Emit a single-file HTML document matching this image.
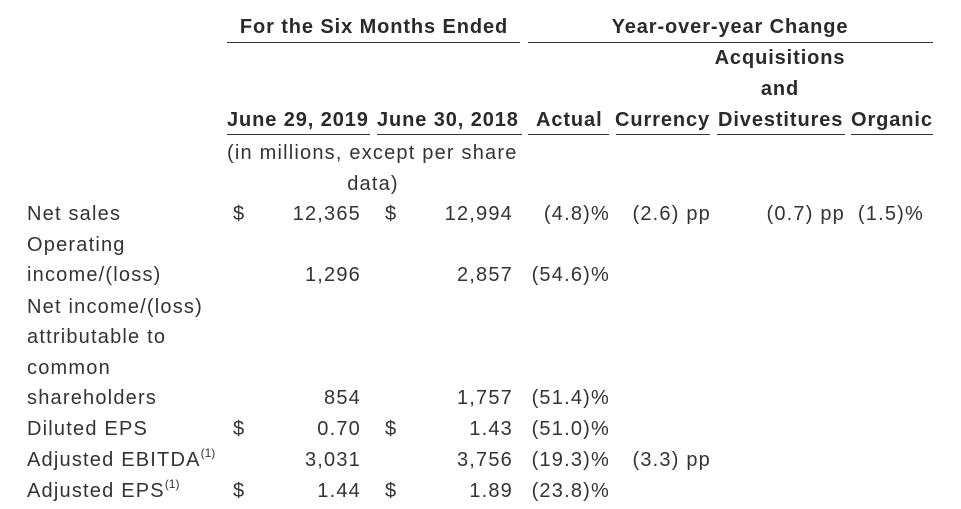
<!DOCTYPE html>
<html><head><meta charset="utf-8"><style>
html,body{margin:0;padding:0;background:#fff;}
body{width:961px;height:509px;position:relative;overflow:hidden;font-family:"Liberation Sans",sans-serif;font-size:20px;letter-spacing:1.2px;color:#333;}
span{position:absolute;line-height:24px;white-space:nowrap;}
.b{font-weight:bold;color:#2a2a2a;letter-spacing:0.9px;}
.c{transform:translateX(-50%);}
.r{transform:translateX(-100%);margin-left:1px;}
sup{font-size:12px;line-height:0;vertical-align:9px;letter-spacing:0;}
.ln{position:absolute;height:1px;background:#333;}
</style></head><body>
<span class="b c" style="left:374px;top:15px">For the Six Months Ended</span>
<span class="b c" style="left:730px;top:15px">Year-over-year Change</span>
<div class="ln" style="left:227px;width:293px;top:42px"></div>
<div class="ln" style="left:528px;width:405px;top:42px"></div>
<span class="b c" style="left:780px;top:46px">Acquisitions</span>
<span class="b c" style="left:780px;top:77px">and</span>
<span class="b" style="left:227px;top:108px">June 29, 2019</span>
<span class="b" style="left:377px;top:108px">June 30, 2018</span>
<span class="b" style="left:536px;top:108px">Actual</span>
<span class="b" style="left:615px;top:108px">Currency</span>
<span class="b" style="left:718px;top:108px">Divestitures</span>
<span class="b" style="left:851px;top:108px">Organic</span>
<div class="ln" style="left:227px;width:143px;top:134px"></div>
<div class="ln" style="left:377px;width:145px;top:134px"></div>
<div class="ln" style="left:528px;width:81px;top:134px"></div>
<div class="ln" style="left:616px;width:94px;top:134px"></div>
<div class="ln" style="left:717px;width:128px;top:134px"></div>
<div class="ln" style="left:851px;width:82px;top:134px"></div>
<span style="left:227px;top:141px">(in millions, except per share</span>
<span class="c" style="left:373px;top:172px">data)</span>

<span style="left:27px;top:202px">Net sales</span>
<span style="left:233px;top:202px">$</span>
<span class="r" style="left:360px;top:202px">12,365</span>
<span style="left:385px;top:202px">$</span>
<span class="r" style="left:512px;top:202px">12,994</span>
<span class="r" style="left:609px;top:202px">(4.8)%</span>
<span class="r" style="left:710px;top:202px">(2.6) pp</span>
<span class="r" style="left:844px;top:202px">(0.7) pp</span>
<span class="r" style="left:923px;top:202px">(1.5)%</span>

<span style="left:27px;top:233px">Operating</span>
<span style="left:27px;top:263px">income/(loss)</span>
<span class="r" style="left:360px;top:263px">1,296</span>
<span class="r" style="left:512px;top:263px">2,857</span>
<span class="r" style="left:609px;top:263px">(54.6)%</span>

<span style="left:27px;top:295px">Net income/(loss)</span>
<span style="left:27px;top:325px">attributable to</span>
<span style="left:27px;top:356px">common</span>
<span style="left:27px;top:386px">shareholders</span>
<span class="r" style="left:360px;top:386px">854</span>
<span class="r" style="left:512px;top:386px">1,757</span>
<span class="r" style="left:609px;top:386px">(51.4)%</span>

<span style="left:27px;top:417px">Diluted EPS</span>
<span style="left:233px;top:417px">$</span>
<span class="r" style="left:360px;top:417px">0.70</span>
<span style="left:385px;top:417px">$</span>
<span class="r" style="left:512px;top:417px">1.43</span>
<span class="r" style="left:609px;top:417px">(51.0)%</span>

<span style="left:27px;top:448px">Adjusted EBITDA<sup>(1)</sup></span>
<span class="r" style="left:360px;top:448px">3,031</span>
<span class="r" style="left:512px;top:448px">3,756</span>
<span class="r" style="left:609px;top:448px">(19.3)%</span>
<span class="r" style="left:710px;top:448px">(3.3) pp</span>

<span style="left:27px;top:479px">Adjusted EPS<sup>(1)</sup></span>
<span style="left:233px;top:479px">$</span>
<span class="r" style="left:360px;top:479px">1.44</span>
<span style="left:385px;top:479px">$</span>
<span class="r" style="left:512px;top:479px">1.89</span>
<span class="r" style="left:609px;top:479px">(23.8)%</span>
</body></html>
